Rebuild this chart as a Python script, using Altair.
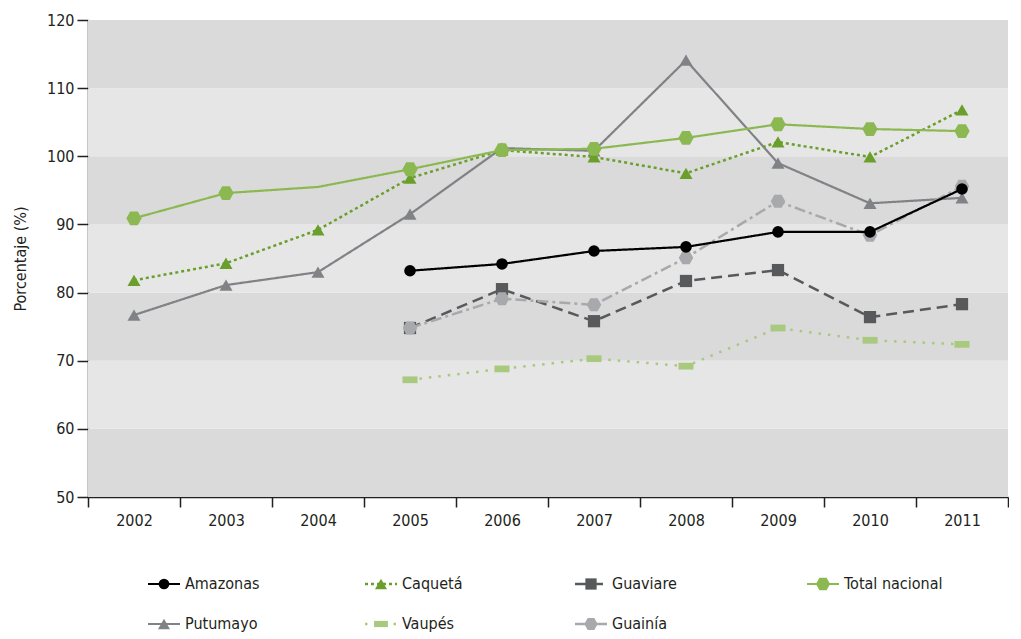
import altair as alt
import pandas as pd

# ---------------- data ----------------
years = ["2002", "2003", "2004", "2005", "2006", "2007", "2008", "2009", "2010", "2011"]

amazonas = [None, None, None, 83.2, 84.2, 86.1, 86.7, 88.9, 88.9, 95.2]
caqueta = [81.8, 84.3, 89.2, 96.8, 100.9, 99.9, 97.5, 102.1, 99.9, 106.8]
guaviare = [None, None, None, 74.8, 80.5, 75.8, 81.7, 83.3, 76.4, 78.3]
total_nacional = [90.9, 94.6, 95.5, 98.1, 100.9, 101.1, 102.7, 104.7, 104.0, 103.7]
total_marker = [1, 1, 0, 1, 1, 1, 1, 1, 1, 1]
putumayo = [76.7, 81.1, 83.0, 91.5, 101.2, 100.8, 114.1, 99.0, 93.1, 93.9]
vaupes = [None, None, None, 67.2, 68.8, 70.3, 69.2, 74.8, 73.0, 72.4]
guainia = [None, None, None, 74.8, 79.1, 78.2, 85.1, 93.4, 88.4, 95.6]

series_names = ["Amazonas", "Caquetá", "Guaviare", "Total nacional",
                "Putumayo", "Vaupés", "Guainía"]
series_values = [amazonas, caqueta, guaviare, total_nacional, putumayo, vaupes, guainia]

y_ticks = [50, 60, 70, 80, 90, 100, 110, 120]

# ---------------- styles ----------------
HEX = "M-1,0L-0.5,-0.9L0.5,-0.9L1,0L0.5,0.9L-0.5,0.9Z"
FLATRECT = "M-1,-0.45L1,-0.45L1,0.45L-1,0.45Z"
styles = {
    "Amazonas":       dict(color="#000000", dash=[1, 0],        shape="circle",       size=135, sw=2.2),
    "Caquetá":        dict(color="#6a9f2c", dash=[3, 3],        shape="triangle-up",  size=170, sw=2.5),
    "Guaviare":       dict(color="#58595b", dash=[11, 6],       shape="square",       size=150, sw=2.5),
    "Total nacional": dict(color="#8cb852", dash=[1, 0],        shape=HEX,            size=235, sw=2.2),
    "Putumayo":       dict(color="#818285", dash=[1, 0],        shape="triangle-up",  size=170, sw=2.2),
    "Vaupés":         dict(color="#a9c97f", dash=[2.5, 7],      shape=FLATRECT,       size=225, sw=2.5),
    "Guainía":        dict(color="#a8a9ad", dash=[11, 4, 3, 4], shape=HEX,            size=210, sw=2.5),
}
draw_order = ["Vaupés", "Guaviare", "Putumayo", "Caquetá", "Total nacional", "Guainía", "Amazonas"]

# legend layout (column centres measured from the plot's left edge)
leg_cols = [76, 293, 503, 735]
leg_pos = {"Amazonas": (0, 0), "Caquetá": (1, 0), "Guaviare": (2, 0), "Total nacional": (3, 0),
           "Putumayo": (0, 1), "Vaupés": (1, 1), "Guainía": (2, 1)}

FONT = "'Liberation Sans Narrow', 'DejaVu Sans Condensed', 'Roboto Condensed', 'Noto Sans', sans-serif"
TXT = "#231f20"
FS = 16
W, H = 920, 477

# ---------------- tables ----------------
rows = []
for name, vals in zip(series_names, series_values):
    for i, (yr, v) in enumerate(zip(years, vals)):
        if v is None:
            continue
        mk = total_marker[i] if name == "Total nacional" else 1
        rows.append(dict(series=name, year=yr, value=v, marker=mk))
df = pd.DataFrame(rows)

bands = pd.DataFrame({
    "lo": y_ticks[:-1],
    "hi": y_ticks[1:],
    "fill": ["#dadadb" if i % 2 == 0 else "#e6e6e7" for i in range(len(y_ticks) - 1)],
})

x_scale = alt.Scale(type="band", domain=years, paddingInner=0, paddingOuter=0)
y_scale = alt.Scale(domain=[50, 120], nice=False, zero=False)
x_axis = alt.Axis(title=None, labelAngle=0, tickBand="extent", tickSize=10, labelPadding=5,
                  domainColor=TXT, tickColor=TXT, domainWidth=1.5, tickWidth=1.5,
                  labelFontSize=FS, labelColor=TXT, labelFont=FONT)
y_axis = alt.Axis(title="Porcentaje (%)", values=y_ticks, tickSize=11, labelPadding=3,
                  domainColor=TXT, tickColor=TXT, domainWidth=1.5, tickWidth=1.5,
                  labelFontSize=FS, labelColor=TXT, labelFont=FONT, grid=False,
                  titleFontSize=FS, titleFont=FONT, titleFontWeight="normal",
                  titleColor=TXT, titlePadding=18)


def X():
    return alt.X("year:O", scale=x_scale, axis=x_axis, bandPosition=0.5)


def Y():
    return alt.Y("value:Q", scale=y_scale, axis=y_axis)


bg = alt.Chart(bands).mark_rect().encode(
    y=alt.Y("lo:Q", scale=y_scale, axis=y_axis),
    y2="hi:Q",
    color=alt.Color("fill:N", scale=None),
)

layers = [bg]
for name in draw_order:
    st = styles[name]
    base = alt.Chart(df).transform_filter(alt.datum.series == name)
    layers.append(base.mark_line(color=st["color"], strokeDash=st["dash"],
                                 strokeWidth=st["sw"]).encode(x=X(), y=Y()))
    layers.append(base.transform_filter(alt.datum.marker == 1).mark_point(
        filled=True, opacity=1, color=st["color"], shape=st["shape"], size=st["size"],
        strokeWidth=0).encode(x=X(), y=Y()))

main = alt.layer(*layers).properties(width=W, height=H)

# ---------------- legend panel ----------------
ROW0, GAP = 9, 40
LH = ROW0 + GAP + 8
leg_rows = []
for name in series_names:
    c, r = leg_pos[name]
    cx = leg_cols[c]
    leg_rows.append(dict(series=name, row=r, xc=cx, x0=cx - 16, x1=cx + 16, xt=cx + 21))
ldf = pd.DataFrame(leg_rows)
lx = alt.Scale(domain=[0, W])
ly = alt.Scale(domain=[-ROW0 / GAP, (LH - ROW0) / GAP], reverse=True)

leg_layers = []
for name in series_names:
    st = styles[name]
    b = alt.Chart(ldf).transform_filter(alt.datum.series == name)
    leg_layers.append(b.mark_rule(color=st["color"], strokeDash=st["dash"], strokeWidth=st["sw"]).encode(
        x=alt.X("x0:Q", scale=lx, axis=None), x2="x1:Q", y=alt.Y("row:Q", scale=ly, axis=None)))
    leg_layers.append(b.mark_point(filled=True, opacity=1, color=st["color"], shape=st["shape"],
                                   size=st["size"] * 0.85, strokeWidth=0).encode(
        x=alt.X("xc:Q", scale=lx, axis=None), y=alt.Y("row:Q", scale=ly, axis=None)))
    leg_layers.append(b.mark_text(align="left", baseline="middle", font=FONT, fontSize=FS,
                                  color=TXT).encode(
        x=alt.X("xt:Q", scale=lx, axis=None), y=alt.Y("row:Q", scale=ly, axis=None),
        text="series:N"))

legend = alt.layer(*leg_layers).properties(width=W, height=LH)

chart = alt.vconcat(main, legend, spacing=47).properties(
    padding={"left": 4, "top": 4, "right": 0, "bottom": 0}
).configure(font=FONT).configure_view(stroke=None)

chart.save("out.html", embed_options={"renderer": "svg", "actions": False})
